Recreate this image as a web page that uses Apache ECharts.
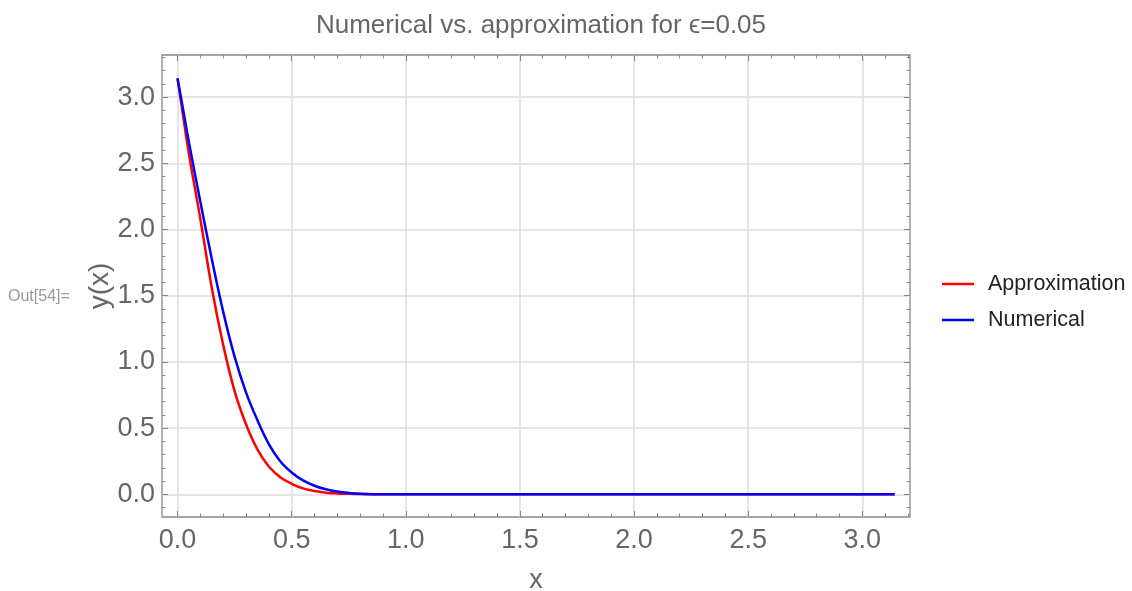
<!DOCTYPE html>
<html>
<head>
<meta charset="utf-8">
<script src="https://cdn.jsdelivr.net/npm/echarts@6/dist/echarts.min.js"></script>
<style>html,body{margin:0;padding:0;background:#fff;}#c{width:1132px;height:591px;}</style>
</head>
<body>
<div id="c"></div>
<script>
var titleText = 'Numerical vs. approximation for \u03f5=0.05';
var seriesNames = ['Approximation', 'Numerical'];
var xs = [0, 0.02, 0.05, 0.1, 0.15, 0.2, 0.25, 0.3, 0.35, 0.4, 0.45, 0.5, 0.55, 0.6, 0.65, 0.7, 0.75, 0.8, 0.9, 1.0, 1.5, 2.0, 2.5, 3.0, 3.14159];
var approx = [3.14159, 2.91, 2.57, 2.08, 1.56, 1.13, 0.78, 0.53, 0.34, 0.21, 0.13, 0.08, 0.045, 0.025, 0.013, 0.007, 0.004, 0.002, 0.0005, 0, 0, 0, 0, 0, 0];
var numerical = [3.14159, 2.95, 2.66, 2.21, 1.78, 1.38, 1.04, 0.77, 0.56, 0.38, 0.25, 0.165, 0.105, 0.065, 0.038, 0.021, 0.011, 0.005, 0.001, 0, 0, 0, 0, 0, 0];
var xMajor = [0, 0.5, 1.0, 1.5, 2.0, 2.5, 3.0];
var xMinor = [0.1,0.2,0.3,0.4,0.6,0.7,0.8,0.9,1.1,1.2,1.3,1.4,1.6,1.7,1.8,1.9,2.1,2.2,2.3,2.4,2.6,2.7,2.8,2.9,3.1,3.2];
var yMajor = [0, 0.5, 1.0, 1.5, 2.0, 2.5, 3.0];
var yMinor = [-0.1,0.1,0.2,0.3,0.4,0.6,0.7,0.8,0.9,1.1,1.2,1.3,1.4,1.6,1.7,1.8,1.9,2.1,2.2,2.3,2.4,2.6,2.7,2.8,2.9,3.1,3.2,3.3];
var xRange = [-0.068, 3.209];
var yRange = [-0.171, 3.318];

function pairs(x, y) { return x.map(function (v, i) { return [v, y[i]]; }); }
var gray = '#888';
var labelColor = '#666';
var font = 'Liberation Sans, Arial, sans-serif';
function mkX(pos, major, vals, labels) {
  return {
    type: 'value', position: pos, min: xRange[0], max: xRange[1],
    axisLine: { show: false, onZero: false },
    axisTick: { show: true, inside: true, length: major ? 6 : 3.5, customValues: vals, lineStyle: { color: gray, width: 1 } },
    axisLabel: labels ? { show: true, customValues: vals, color: labelColor, fontSize: 27, fontFamily: font, margin: 10, formatter: function (v) { return v.toFixed(1); } } : { show: false },
    splitLine: { show: labels, lineStyle: { color: '#dcdcdc', width: 1.5 } },
    name: labels ? 'x' : '', nameLocation: 'middle', nameGap: 50, nameMoveOverlap: false,
    nameTextStyle: { color: labelColor, fontSize: 27, fontFamily: font }
  };
}
function mkY(pos, major, vals, labels) {
  return {
    type: 'value', position: pos, min: yRange[0], max: yRange[1],
    axisLine: { show: false, onZero: false },
    axisTick: { show: true, inside: true, length: major ? 6 : 3.5, customValues: vals, lineStyle: { color: gray, width: 1 } },
    axisLabel: labels ? { show: true, customValues: vals, color: labelColor, fontSize: 27, fontFamily: font, margin: 7, formatter: function (v) { return v.toFixed(1); } } : { show: false },
    splitLine: { show: labels, lineStyle: { color: '#dcdcdc', width: 1.5 } },
    name: labels ? 'y(x)' : '', nameLocation: 'middle', nameGap: 48, nameRotate: 90, nameMoveOverlap: false,
    nameTextStyle: { color: labelColor, fontSize: 28, fontFamily: font }
  };
}

var chart = echarts.init(document.getElementById('c'), null, { renderer: 'canvas' });
chart.setOption({
  animation: false,
  backgroundColor: '#fff',
  title: {
    text: titleText, left: 536, top: 8, textAlign: 'center',
    textStyle: { color: '#666', fontSize: 26, fontWeight: 'normal', fontFamily: font }
  },
  grid: { left: 162, top: 55, right: 222, bottom: 74, outerBoundsMode: 'none', containLabel: false, show: true, borderColor: '#888', borderWidth: 1.3, backgroundColor: 'transparent' },
  legend: {
    orient: 'vertical', left: 937, top: 268, itemWidth: 32, itemHeight: 2.5, itemGap: 14,
    icon: 'rect',
    textStyle: { color: '#222', fontSize: 21.5, fontFamily: font, padding: [0, 0, 0, 9] },
    data: seriesNames
  },
  graphic: [{
    type: 'text', left: 8, top: 289,
    style: { text: 'Out[54]=', fill: '#999', fontSize: 16, fontFamily: font }
  }],
  xAxis: [mkX('bottom', true, xMajor, true), mkX('bottom', false, xMinor, false), mkX('top', true, xMajor, false), mkX('top', false, xMinor, false)],
  yAxis: [mkY('left', true, yMajor, true), mkY('left', false, yMinor, false), mkY('right', true, yMajor, false), mkY('right', false, yMinor, false)],
  series: [
    { name: seriesNames[0], type: 'line', data: pairs(xs, approx), showSymbol: false, smooth: 0.4, color: '#ff0000', lineStyle: { color: '#ff0000', width: 2.5 }, z: 3 },
    { name: seriesNames[1], type: 'line', data: pairs(xs, numerical), showSymbol: false, smooth: 0.4, color: '#0000ff', lineStyle: { color: '#0000ff', width: 2.5 }, z: 4 }
  ]
});
</script>
</body>
</html>
